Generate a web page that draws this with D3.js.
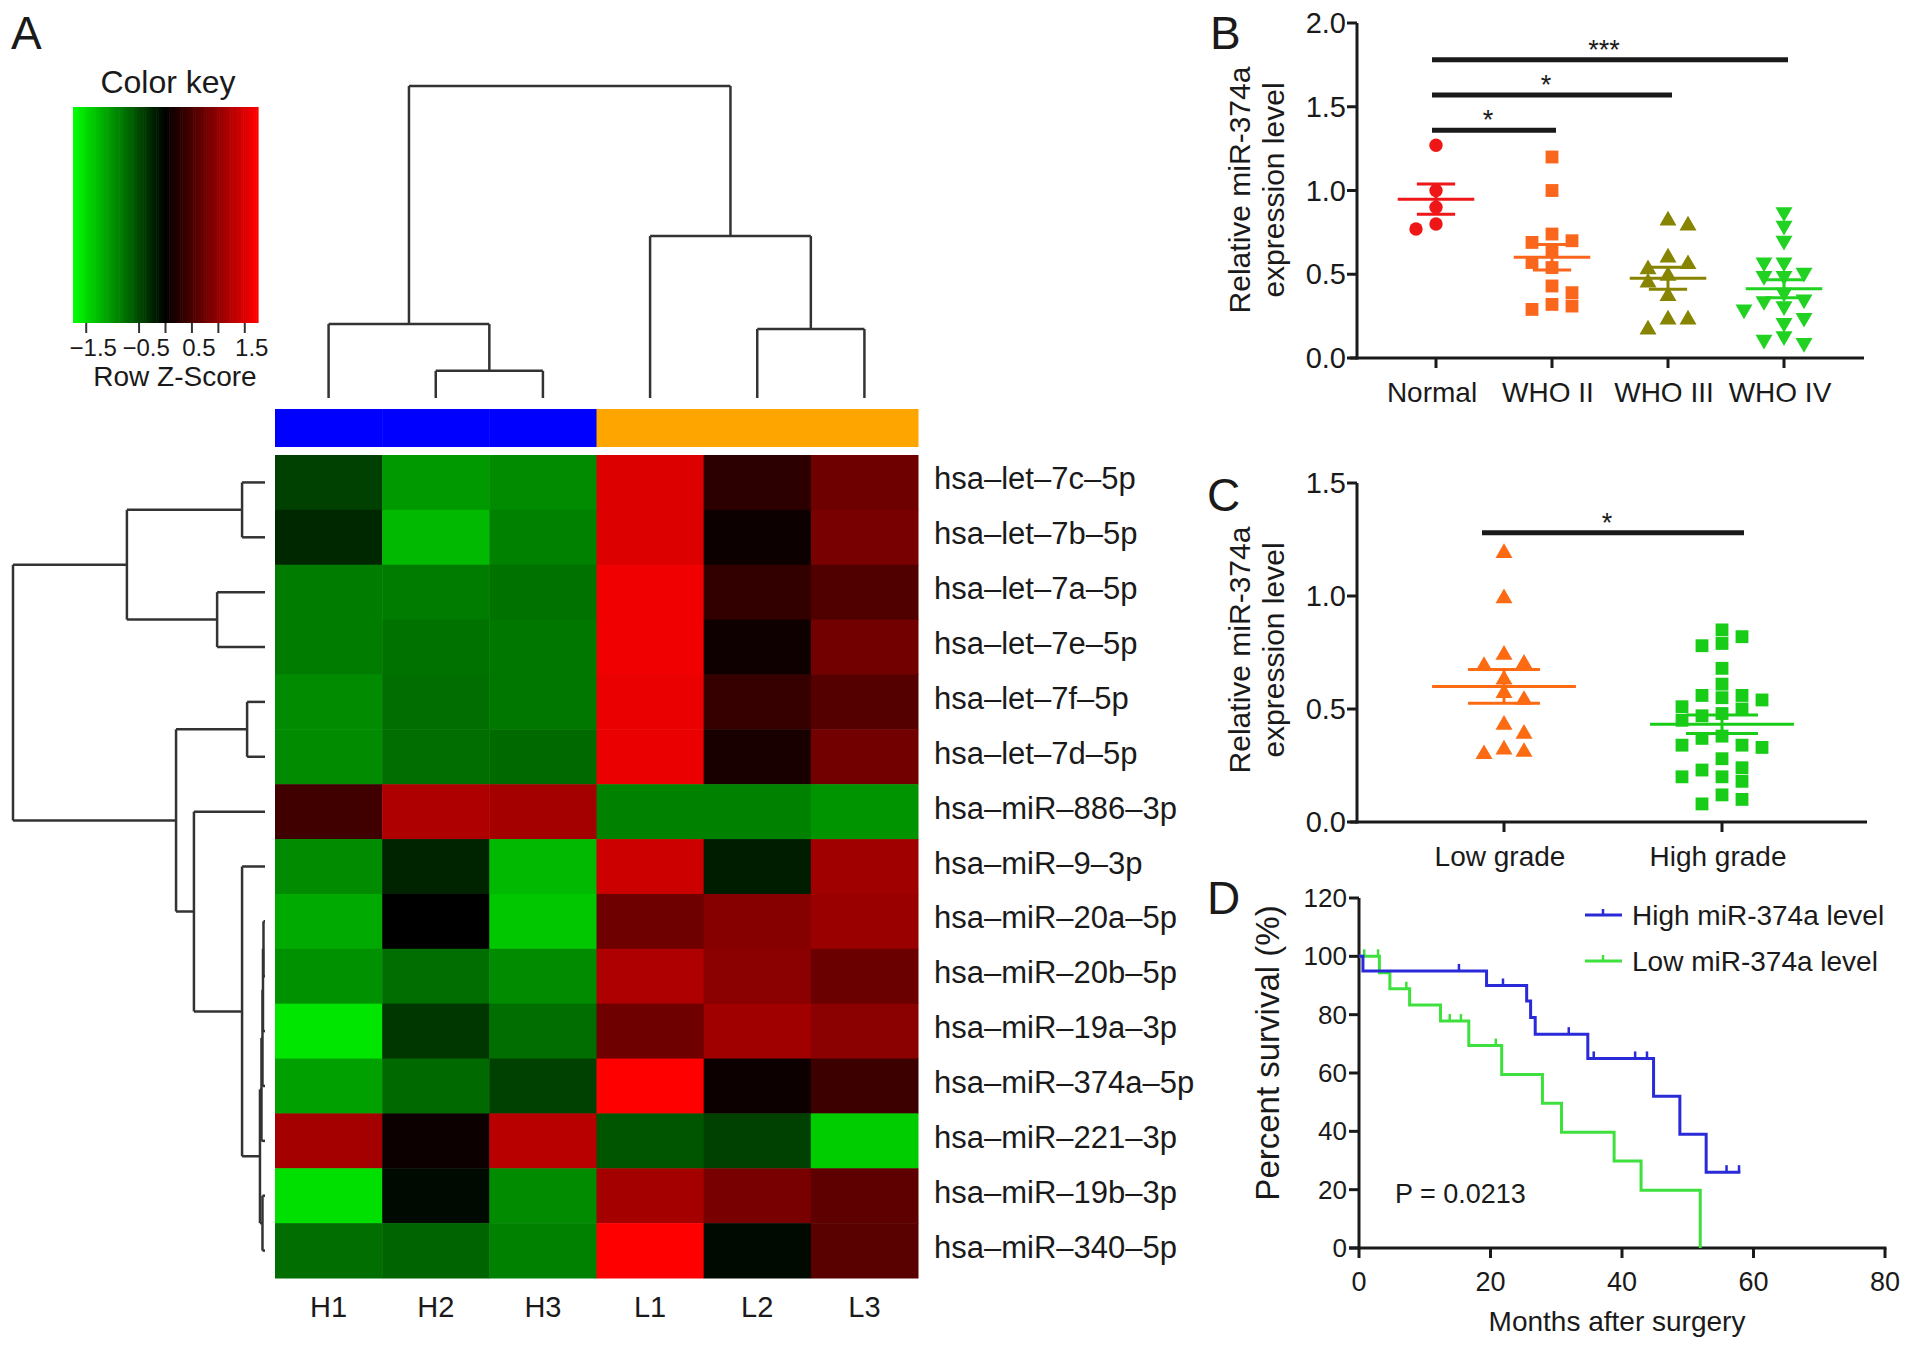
<!DOCTYPE html>
<html>
<head>
<meta charset="utf-8">
<script src="https://cdn.jsdelivr.net/npm/d3@7"></script>
<style>
  body { margin: 0; background: #fff; }
  svg text { font-family: "Liberation Sans", Arial, sans-serif; fill: #1a1a1a; }
</style>
</head>
<body>
<svg id="fig" width="1913" height="1349"></svg>
<script>
// ---------- data ----------
// panel A: row z-scores
const rowLabels = ['hsa–let–7c–5p', 'hsa–let–7b–5p', 'hsa–let–7a–5p', 'hsa–let–7e–5p', 'hsa–let–7f–5p',
  'hsa–let–7d–5p', 'hsa–miR–886–3p', 'hsa–miR–9–3p', 'hsa–miR–20a–5p', 'hsa–miR–20b–5p',
  'hsa–miR–19a–3p', 'hsa–miR–374a–5p', 'hsa–miR–221–3p', 'hsa–miR–19b–3p', 'hsa–miR–340–5p'];
const colLabels = ['H1', 'H2', 'H3', 'L1', 'L2', 'L3'];
const colGroups = ['H', 'H', 'H', 'L', 'L', 'L'];
const zScores = [
  [-0.44, -1.05, -0.95, 1.50, 0.30, 0.75],
  [-0.27, -1.26, -0.89, 1.50, 0.08, 0.82],
  [-0.85, -0.85, -0.78, 1.64, 0.35, 0.55],
  [-0.85, -0.78, -0.82, 1.64, 0.10, 0.78],
  [-0.95, -0.75, -0.82, 1.60, 0.37, 0.58],
  [-0.95, -0.75, -0.72, 1.60, 0.17, 0.78],
  [0.44, 1.19, 1.12, -0.89, -0.89, -1.02],
  [-0.95, -0.24, -1.26, 1.40, -0.20, 1.09],
  [-1.16, 0.00, -1.36, 0.75, 0.92, 1.06],
  [-0.99, -0.75, -0.95, 1.19, 0.95, 0.72],
  [-1.57, -0.37, -0.75, 0.75, 1.09, 0.95],
  [-1.09, -0.72, -0.44, 1.74, 0.08, 0.41],
  [1.12, 0.08, 1.26, -0.58, -0.44, -1.40],
  [-1.53, -0.07, -0.95, 1.12, 0.82, 0.65],
  [-0.75, -0.68, -0.89, 1.74, -0.07, 0.61]
];
// dendrograms as hclust-style merge tables (negative = leaf index, 1-based)
const colMerge = [[-2, -3], [-5, -6], [-1, 1], [-4, 2], [3, 4]];
const colHeight = [0.87, 2.21, 2.37, 5.19, 10];
const rowMerge = [[-1, -2], [-3, -4], [-5, -6], [-9, -10], [4, -11], [5, -12], [6, -13],
  [-14, -15], [7, 8], [-8, 9], [-7, 10], [3, 11], [1, 2], [13, 12]];
const rowHeight = [0.91, 1.9, 0.71, 0.06, 0.08, 0.1, 0.14, 0.1, 0.2, 0.91, 2.82, 3.53, 5.48, 10];
const keyTicks = [-1.5, -0.5, 0, 0.5, 1, 1.5];
const keyTickLabels = [-1.5, -0.5, 0.5, 1.5];

// panel B
const gradeCats = ['Normal', 'WHO II', 'WHO III', 'WHO IV'];
const normalVals = [1.27, 1.00, 0.90, 0.80, 0.77];
const who2Vals = [1.20, 1.00, 0.74, 0.70, 0.69, 0.64, 0.57, 0.54, 0.43, 0.39, 0.32, 0.31, 0.29];
const who3Vals = [0.82, 0.79, 0.60, 0.56, 0.53, 0.49, 0.45, 0.37, 0.23, 0.23, 0.17];
const who4Vals = [0.87, 0.79, 0.70, 0.57, 0.57, 0.51, 0.49, 0.49, 0.39, 0.35, 0.34, 0.31, 0.29, 0.24, 0.21, 0.13, 0.11, 0.09];
const sigB = [
  { from: 'Normal', to: 'WHO II', y: 1.36, label: '*' },
  { from: 'Normal', to: 'WHO III', y: 1.57, label: '*' },
  { from: 'Normal', to: 'WHO IV', y: 1.78, label: '***' }
];
const yTicksB = [0, 0.5, 1, 1.5, 2];

// panel C
const lowHighCats = ['Low grade', 'High grade'];
const lowGradeVals = [1.19, 0.99, 0.74, 0.70, 0.69, 0.63, 0.57, 0.54, 0.43, 0.39, 0.32, 0.31, 0.30];
const highGradeVals = [0.85, 0.82, 0.79, 0.78, 0.68, 0.61, 0.56, 0.56, 0.55, 0.54, 0.51, 0.50, 0.48, 0.47,
  0.45, 0.38, 0.37, 0.34, 0.34, 0.33, 0.28, 0.24, 0.23, 0.20, 0.20, 0.18, 0.12, 0.10, 0.08];
const sigC = [{ from: 'Low grade', to: 'High grade', y: 1.28, label: '*' }];
const yTicksC = [0, 0.5, 1, 1.5];

// panel D: Kaplan-Meier steps (months, % survival) and censor times
const highTimes = [0, 0.6, 19.4, 25.5, 26.1, 26.8, 34.8, 44.8, 48.8, 52.8];
const highSurv = [100, 95, 90, 84.7, 79, 73.3, 65, 52, 39, 26];
const highEnd = 58;
const highCensor = [15.2, 21.9, 31.9, 35.7, 42, 43.8, 55.9, 57.8];
const lowTimes = [0, 3.1, 4.7, 7.7, 12.4, 16.7, 21.7, 27.9, 30.8, 38.8, 42.9, 51.9];
const lowSurv = [100, 94.4, 88.9, 83.3, 77.8, 69.4, 59.5, 49.6, 39.7, 29.8, 19.8, 0];
const lowEnd = 51.9;
const lowCensor = [0.8, 2.9, 7.2, 13.8, 15.5, 20.8];
const xTicksD = [0, 20, 40, 60, 80];
const yTicksD = [0, 20, 40, 60, 80, 100, 120];

// ---------- helpers ----------
const svg = d3.select('#fig');
const INK = '#1a1a1a';

function panelLetter(t, x, y) {
  svg.append('text').attr('x', x).attr('y', y).attr('font-size', 46).text(t);
}

function mean(a) { return d3.mean(a); }
function sem(a) { return d3.deviation(a) / Math.sqrt(a.length); }

// simple beeswarm: push points sideways until they no longer collide
function swarm(values, y, step, gap) {
  const order = d3.range(values.length).sort((a, b) => values[b] - values[a]);
  const placed = [];
  const off = new Array(values.length).fill(0);
  order.forEach(i => {
    const py = y(values[i]);
    for (let k = 0; k < 30; k++) {
      const cands = k === 0 ? [0] : (placed.length % 2 ? [k * step, -k * step] : [-k * step, k * step]);
      const hit = cands.find(dx => !placed.some(p => Math.abs(p.dx - dx) < gap && Math.abs(p.py - py) < gap));
      if (hit !== undefined) { off[i] = hit; placed.push({ dx: hit, py }); break; }
    }
  });
  return off;
}

const shapes = {
  circle: d3.symbol().type(d3.symbolCircle).size(140),
  square: d3.symbol().type(d3.symbolSquare).size(165),
  triangle: d3.symbol().type(d3.symbolTriangle).size(125)
};

function drawGroup(g, vals, cx, y, spacing, color, shape, flip) {
  const off = swarm(vals, y, 10, 13);
  g.selectAll(null).data(vals).enter().append('path')
    .attr('d', shapes[shape])
    .attr('transform', (d, i) => `translate(${cx + off[i]},${y(d)})${flip ? ' rotate(180)' : ''}`)
    .attr('fill', color);
  const m = mean(vals), s = sem(vals);
  const wMean = spacing * 0.33, wSem = spacing * 0.165;
  const ln = (x1, y1, x2, y2) => g.append('line').attr('x1', x1).attr('y1', y1).attr('x2', x2).attr('y2', y2)
    .attr('stroke', color).attr('stroke-width', 3);
  ln(cx - wMean, y(m), cx + wMean, y(m));
  ln(cx - wSem, y(m + s), cx + wSem, y(m + s));
  ln(cx - wSem, y(m - s), cx + wSem, y(m - s));
  ln(cx, y(m + s), cx, y(m - s));
}

function drawAxes(g, x, y, yTicks, fmt, axisLeft, axisRight, cats) {
  const [y0, y1] = y.range();
  g.append('line').attr('x1', axisLeft).attr('x2', axisLeft).attr('y1', y0 + 1.5).attr('y2', y1)
    .attr('stroke', INK).attr('stroke-width', 3);
  g.append('line').attr('x1', axisLeft - 7).attr('x2', axisRight).attr('y1', y0).attr('y2', y0)
    .attr('stroke', INK).attr('stroke-width', 3);
  yTicks.forEach(t => {
    g.append('line').attr('x1', axisLeft - 10).attr('x2', axisLeft).attr('y1', y(t)).attr('y2', y(t))
      .attr('stroke', INK).attr('stroke-width', 3);
    g.append('text').attr('x', axisLeft - 11).attr('y', y(t) + 10).attr('text-anchor', 'end')
      .attr('font-size', 29).text(fmt(t));
  });
  if (cats) {
    cats.forEach(c => {
      g.append('line').attr('x1', x(c)).attr('x2', x(c)).attr('y1', y0).attr('y2', y0 + 10)
        .attr('stroke', INK).attr('stroke-width', 3);
      g.append('text').attr('x', x(c) - 4).attr('y', y0 + 44).attr('text-anchor', 'middle')
        .attr('font-size', 28).text(c);
    });
  }
}

function drawSig(g, x, y, sigs, pad) {
  sigs.forEach(s => {
    const x1 = x(s.from) - pad, x2 = x(s.to) + pad;
    g.append('line').attr('x1', x1).attr('x2', x2).attr('y1', y(s.y)).attr('y2', y(s.y))
      .attr('stroke', INK).attr('stroke-width', 5);
    g.append('text').attr('x', (x1 + x2) / 2 - 6).attr('y', y(s.y) - 1).attr('text-anchor', 'middle')
      .attr('font-size', 27).text(s.label);
  });
}

function yTitle(g, lines, cx, cy, size) {
  lines.forEach((l, i) => {
    g.append('text').attr('transform', `translate(${cx + i * 34},${cy}) rotate(-90)`)
      .attr('text-anchor', 'middle').attr('font-size', size).text(l);
  });
}

// ---------- panel A: heatmap ----------
function drawHeatmap() {
  const g = svg.append('g');
  const x = d3.scaleBand().domain(d3.range(colLabels.length)).range([275, 918]);
  const y = d3.scaleBand().domain(d3.range(rowLabels.length)).range([455, 1278]);
  const color = d3.scaleLinear().domain([-1.74, 0, 1.74]).range(['#00ff00', '#000000', '#ff0000']).clamp(true);
  const groupColor = d3.scaleOrdinal().domain(['H', 'L']).range(['#0000ff', '#ffa500']);

  zScores.forEach((row, r) => {
    g.selectAll(null).data(row).enter().append('rect')
      .attr('x', (d, c) => x(c)).attr('y', y(r))
      .attr('width', x.bandwidth() + 0.5).attr('height', y.bandwidth() + 0.5)
      .attr('fill', d => color(d));
  });

  g.selectAll(null).data(colGroups).enter().append('rect')
    .attr('x', (d, c) => x(c)).attr('y', 409)
    .attr('width', x.bandwidth() + 0.5).attr('height', 38)
    .attr('fill', d => groupColor(d));

  g.selectAll(null).data(rowLabels).enter().append('text')
    .attr('x', 934).attr('y', (d, r) => y(r) + y.bandwidth() / 2 + 7)
    .attr('font-size', 31).text(d => d);

  g.selectAll(null).data(colLabels).enter().append('text')
    .attr('x', (d, c) => x(c) + x.bandwidth() / 2).attr('y', 1317)
    .attr('text-anchor', 'middle').attr('font-size', 29).text(d => d);

  // column dendrogram (vertical)
  const hy = d3.scaleLinear().domain([0, 10]).range([398, 86]);
  drawDendro(g, colMerge, colHeight, c => x(c) + x.bandwidth() / 2, hy, true);
  // row dendrogram (horizontal)
  const hx = d3.scaleLinear().domain([0, 10]).range([265, 13]);
  drawDendro(g, rowMerge, rowHeight, r => y(r) + y.bandwidth() / 2, hx, false);

  // colour key
  const k = d3.scaleLinear().domain([-1.75, 1.75]).range([73, 258]);
  const steps = d3.range(-1.75, 1.75, 0.035);
  g.selectAll(null).data(steps).enter().append('rect')
    .attr('x', d => k(d)).attr('y', 107)
    .attr('width', k(0.035) - k(0) + 0.6).attr('height', 216)
    .attr('fill', d => color(d + 0.0175));
  keyTicks.forEach(t => {
    g.append('line').attr('x1', k(t)).attr('x2', k(t)).attr('y1', 323).attr('y2', 333)
      .attr('stroke', '#333').attr('stroke-width', 2);
  });
  keyTickLabels.forEach(t => {
    g.append('text').attr('x', k(t) + 7).attr('y', 356).attr('text-anchor', 'middle')
      .attr('font-size', 24).text(d3.format('.1f')(t).replace('-', '−'));
  });
  g.append('text').attr('x', 168).attr('y', 93).attr('text-anchor', 'middle').attr('font-size', 32).text('Color key');
  g.append('text').attr('x', 175).attr('y', 386).attr('text-anchor', 'middle').attr('font-size', 28).text('Row Z-Score');
}

function drawDendro(g, merge, heights, leafPos, hScale, vertical) {
  const pos = [];
  const nodeInfo = m => m < 0 ? { p: leafPos(-m - 1), h: 0 } : { p: pos[m - 1], h: heights[m - 1] };
  const seg = (p1, h1, p2, h2) => {
    const l = g.append('line').attr('stroke', '#333').attr('stroke-width', 2.5);
    if (vertical) l.attr('x1', p1).attr('y1', hScale(h1)).attr('x2', p2).attr('y2', hScale(h2));
    else l.attr('x1', hScale(h1)).attr('y1', p1).attr('x2', hScale(h2)).attr('y2', p2);
  };
  merge.forEach((pair, i) => {
    const a = nodeInfo(pair[0]), b = nodeInfo(pair[1]);
    const h = heights[i];
    seg(a.p, a.h, a.p, h);
    seg(b.p, b.h, b.p, h);
    seg(a.p, h, b.p, h);
    pos.push((a.p + b.p) / 2);
  });
}

// ---------- panel B ----------
function drawPanelB() {
  const g = svg.append('g');
  const x = d3.scalePoint().domain(gradeCats).range([1436, 1784]);
  const y = d3.scaleLinear().domain([0, 2]).range([358, 23]);
  drawAxes(g, x, y, yTicksB, d3.format('.1f'), 1357, 1864, gradeCats);
  const sp = x.step();
  drawGroup(g, normalVals, x('Normal'), y, sp, '#ee1616', 'circle', false);
  drawGroup(g, who2Vals, x('WHO II'), y, sp, '#fa661c', 'square', false);
  drawGroup(g, who3Vals, x('WHO III'), y, sp, '#868400', 'triangle', false);
  drawGroup(g, who4Vals, x('WHO IV'), y, sp, '#22d222', 'triangle', true);
  drawSig(g, x, y, sigB, 4);
  yTitle(g, ['Relative miR-374a', 'expression level'], 1250, 190, 30);
  panelLetter('B', 1210, 49);
}

// ---------- panel C ----------
function drawPanelC() {
  const g = svg.append('g');
  const x = d3.scalePoint().domain(lowHighCats).range([1504, 1722]);
  const y = d3.scaleLinear().domain([0, 1.5]).range([822, 483]);
  drawAxes(g, x, y, yTicksC, d3.format('.1f'), 1357, 1867, lowHighCats);
  const sp = x.step();
  drawGroup(g, lowGradeVals, x('Low grade'), y, sp, '#fc6a12', 'triangle', false);
  drawGroup(g, highGradeVals, x('High grade'), y, sp, '#18cc18', 'square', false);
  drawSig(g, x, y, sigC, 22);
  yTitle(g, ['Relative miR-374a', 'expression level'], 1250, 650, 30);
  panelLetter('C', 1207, 511);
}

// ---------- panel D ----------
function stepPath(times, surv, end, x, y) {
  let d = `M${x(times[0])},${y(surv[0])}`;
  for (let i = 1; i < times.length; i++) d += `H${x(times[i])}V${y(surv[i])}`;
  return d + `H${x(end)}`;
}
function survAt(times, surv, t) {
  const i = d3.bisectRight(times, t) - 1;
  return surv[Math.max(0, i)];
}

function drawPanelD() {
  const g = svg.append('g');
  const x = d3.scaleLinear().domain([0, 80]).range([1359, 1885]);
  const y = d3.scaleLinear().domain([0, 120]).range([1248, 898]);
  g.append('line').attr('x1', x(0)).attr('x2', x(0)).attr('y1', y(0) + 1.5).attr('y2', y(120))
    .attr('stroke', INK).attr('stroke-width', 3);
  g.append('line').attr('x1', x(0) - 10).attr('x2', x(80) + 1.5).attr('y1', y(0)).attr('y2', y(0))
    .attr('stroke', INK).attr('stroke-width', 3);
  yTicksD.forEach(t => {
    g.append('line').attr('x1', x(0) - 10).attr('x2', x(0)).attr('y1', y(t)).attr('y2', y(t))
      .attr('stroke', INK).attr('stroke-width', 3);
    g.append('text').attr('x', x(0) - 12).attr('y', y(t) + 9).attr('text-anchor', 'end')
      .attr('font-size', 26).text(t);
  });
  xTicksD.forEach(t => {
    g.append('line').attr('x1', x(t)).attr('x2', x(t)).attr('y1', y(0)).attr('y2', y(0) + 10)
      .attr('stroke', INK).attr('stroke-width', 3);
    g.append('text').attr('x', x(t)).attr('y', 1291).attr('text-anchor', 'middle')
      .attr('font-size', 27).text(t);
  });

  const series = [
    { times: lowTimes, surv: lowSurv, end: lowEnd, censor: lowCensor, color: '#3ee03e', name: 'Low miR-374a level' },
    { times: highTimes, surv: highSurv, end: highEnd, censor: highCensor, color: '#2a2ad8', name: 'High miR-374a level' }
  ];
  series.forEach(s => {
    g.append('path').attr('d', stepPath(s.times, s.surv, s.end, x, y))
      .attr('fill', 'none').attr('stroke', s.color).attr('stroke-width', 3);
    s.censor.forEach(t => {
      const v = survAt(s.times, s.surv, t);
      g.append('line').attr('x1', x(t)).attr('x2', x(t)).attr('y1', y(v)).attr('y2', y(v) - 7)
        .attr('stroke', s.color).attr('stroke-width', 2.5);
    });
  });

  // legend
  [series[1], series[0]].forEach((s, i) => {
    const ly = 915 + i * 46;
    g.append('line').attr('x1', 1585).attr('x2', 1622).attr('y1', ly).attr('y2', ly)
      .attr('stroke', s.color).attr('stroke-width', 3);
    g.append('line').attr('x1', 1603).attr('x2', 1603).attr('y1', ly).attr('y2', ly - 6)
      .attr('stroke', s.color).attr('stroke-width', 2.5);
    g.append('text').attr('x', 1632).attr('y', ly + 10).attr('font-size', 28).text(s.name);
  });

  g.append('text').attr('x', 1395).attr('y', 1203).attr('font-size', 27).text('P = 0.0213');
  g.append('text').attr('x', 1617).attr('y', 1331).attr('text-anchor', 'middle').attr('font-size', 28)
    .text('Months after surgery');
  g.append('text').attr('transform', 'translate(1279,1053) rotate(-90)').attr('text-anchor', 'middle')
    .attr('font-size', 33).text('Percent survival (%)');
  panelLetter('D', 1207, 914);
}

drawHeatmap();
panelLetter('A', 11, 49);
drawPanelB();
drawPanelC();
drawPanelD();
</script>
</body>
</html>
